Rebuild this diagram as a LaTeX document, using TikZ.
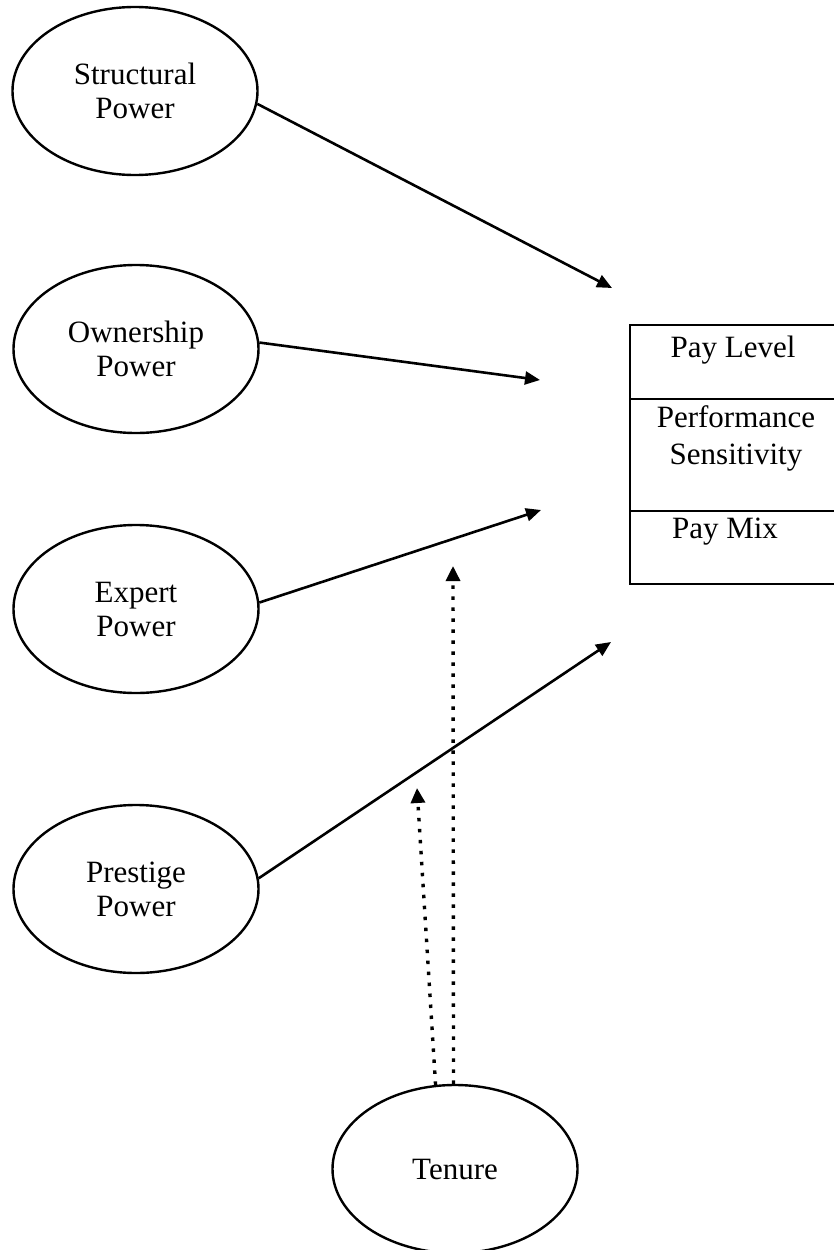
\documentclass[tikz,border=0pt]{standalone}
\usepackage{fontspec}
\setmainfont{Liberation Serif}
\usetikzlibrary{shapes.geometric,arrows.meta}
\begin{document}
\begin{tikzpicture}[x=1pt,y=-1pt,
  construct/.style={draw,ellipse,line width=2.4pt,minimum width=245pt,minimum height=168pt,
    inner sep=0pt,align=center,font=\fontsize{31}{34}\selectfont},
  celltext/.style={align=center,inner sep=0pt,font=\fontsize{31}{37}\selectfont},
  boxline/.style={line width=2.2pt},
  effect/.style={line width=2.6pt,-{Triangle[length=15pt,width=13pt]}},
  moderate/.style={line width=3.4pt,dash pattern=on 3.5pt off 7.5pt,-{Triangle[length=15pt,width=14pt]}}]
\useasboundingbox (0,0) rectangle (833,1250);

% predictors
\node[construct] (s) at (135,91) {Structural\\Power};
\node[construct] (o) at (136,349) {Ownership\\Power};
\node[construct] (e) at (136,609) {Expert\\Power};
\node[construct] (p) at (136,889) {Prestige\\Power};
\node[construct] (t) at (455,1169) {Tenure};

% outcome box with three compartments
\draw[boxline] (860,325) -- (630,325) -- (630,584) -- (860,584);
\draw[boxline] (630,399) -- (860,399);
\draw[boxline] (630,511) -- (860,511);
\node[celltext] (lvl) at (733,350) {Pay Level};
\node[celltext] (sens) at (736,438) {Performance\\Sensitivity};
\node[celltext] (mix) at (725,532) {Pay Mix};

% free arrow ends
\coordinate (sEnd) at (612,288);
\coordinate (oEnd) at (540,380);
\coordinate (eEnd) at (541,510);
\coordinate (pEnd) at (611,642);
\coordinate (tEndA) at (453,566);
\coordinate (tEndB) at (417,788);

\draw[effect] (s.-6) -- (sEnd);
\draw[effect] (o.3) -- (oEnd);
\draw[effect] (e.3) -- (eEnd);
\draw[effect] (p.5) -- (pEnd);

\draw[moderate] (t.91) -- (tEndA);
\draw[moderate] (t.103) -- (tEndB);
\end{tikzpicture}
\end{document}
